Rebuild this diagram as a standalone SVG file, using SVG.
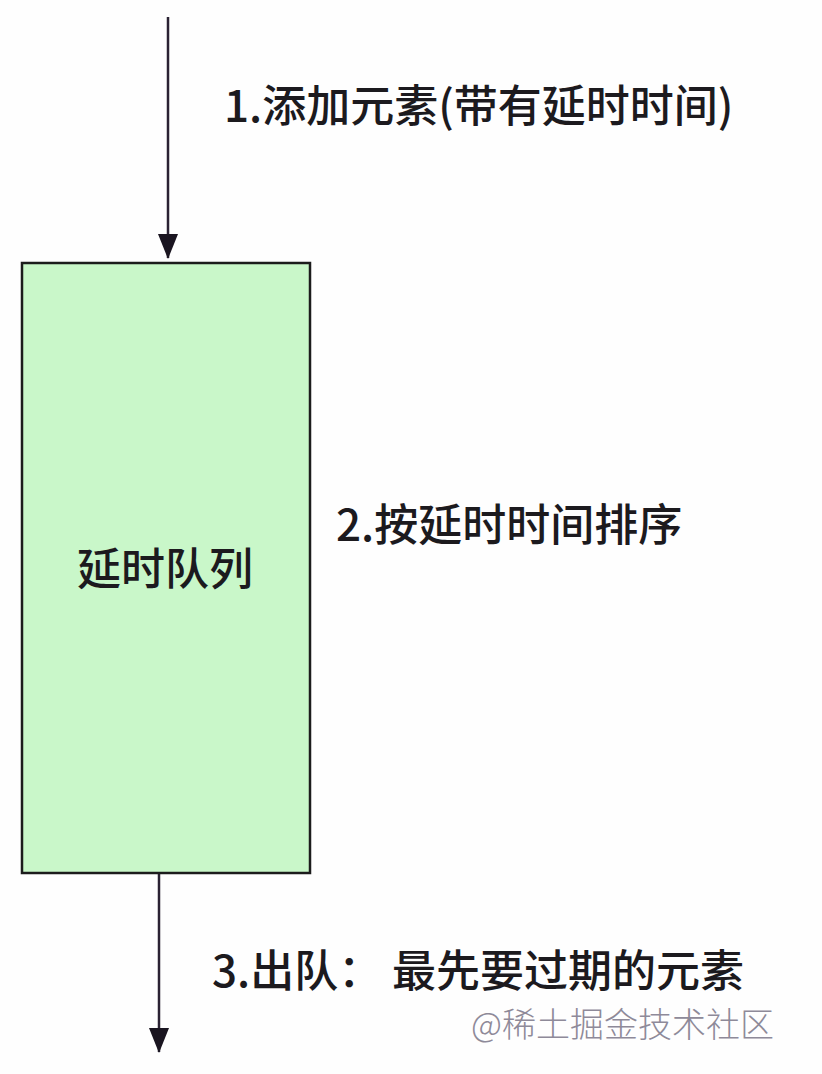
<svg xmlns="http://www.w3.org/2000/svg" width="822" height="1074" viewBox="0 0 822 1074">
<style>
.t{font-family:"Noto Sans CJK SC","Liberation Sans",sans-serif;fill:#1c1a1e;font-size:44px;font-weight:500}
.ln{stroke:#2a2233;stroke-width:2.5;fill:none}
.wm{font-family:"Noto Sans CJK SC","Liberation Sans",sans-serif;fill:#8e8a99;font-size:34px;font-weight:300}
</style>
<defs>
<marker id="ah" markerUnits="userSpaceOnUse" markerWidth="25" markerHeight="22" refX="24" refY="10" orient="auto" viewBox="0 0 25 20">
<path d="M0,0 L25,10 L0,20 Z" fill="#1a1520"/>
</marker>
</defs>
<rect width="822" height="1074" fill="#fefefe"/>
<g id="connectors">
<line class="ln" x1="168" y1="17" x2="168" y2="258" marker-end="url(#ah)"/>
<line class="ln" x1="159" y1="874" x2="159" y2="1052" marker-end="url(#ah)"/>
</g>
<g id="queue">
<rect x="22" y="263" width="288" height="610" fill="#c9f7c9" stroke="#1c1c1c" stroke-width="2.5"/>
<text class="t" x="77" y="585">延时队列</text>
</g>
<g id="label1"><text class="t" x="224" y="122" font-size="43">1.添加元素(带有延时时间)</text></g>
<g id="label2"><text class="t" x="336" y="541">2.按延时时间排序</text></g>
<g id="label3"><text class="t" x="212" y="987">3.出队： 最先要过期的元素</text></g>
<g id="watermark"><text class="wm" x="471" y="1037">@稀土掘金技术社区</text></g>
</svg>
